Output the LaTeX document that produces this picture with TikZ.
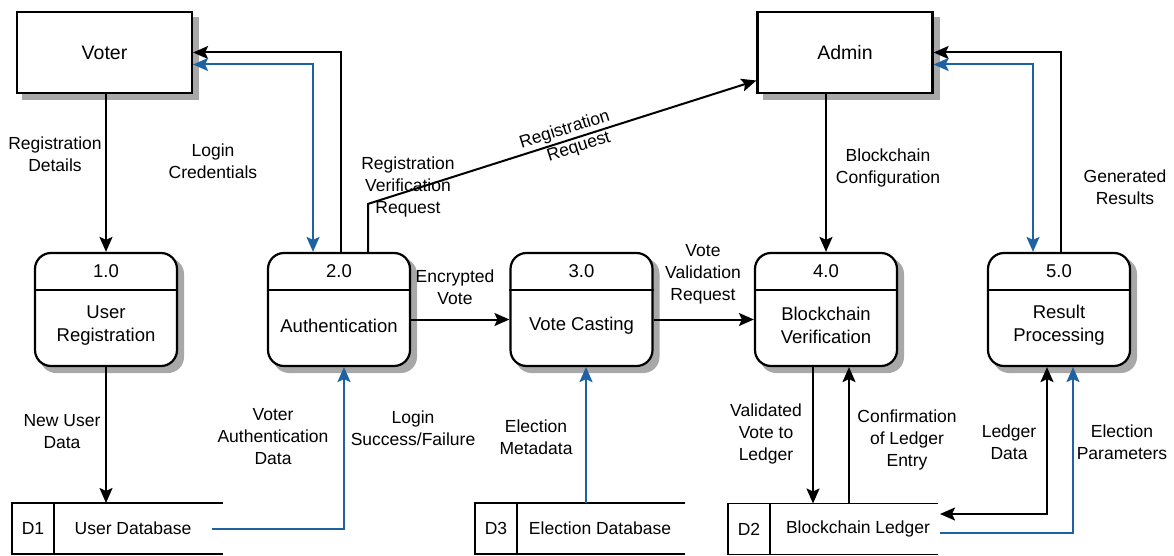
\documentclass[tikz,border=0pt]{standalone}
\usepackage{fontspec}
\setmainfont{Liberation Sans}
\usetikzlibrary{arrows.meta,calc}
\definecolor{flowblue}{RGB}{30,98,164}
\definecolor{shadowgray}{RGB}{168,168,168}
\begin{document}
\begin{tikzpicture}[x=1pt,y=-1pt,
  >={Stealth[length=15pt,width=13pt,inset=3pt]},
  ent/.style={draw,line width=2.2pt,fill=white,minimum width=175pt,minimum height=81pt,font=\fontsize{19.5}{23}\selectfont},
  proc/.style={draw,line width=2.2pt,fill=white,rounded corners=16pt,minimum width=142pt,minimum height=113pt},
  ptext/.style={font=\fontsize{18.5}{23}\selectfont,align=center,inner sep=0pt},
  lbl/.style={font=\fontsize{17.5}{22}\selectfont,align=center,inner sep=0pt},
  store/.style={minimum height=51pt,inner sep=0pt,outer sep=0pt},
  storeline/.style={line width=1.8pt},
  flow/.style={line width=2pt,->},
  bflow/.style={line width=2pt,draw=flowblue,->},
  shadowbox/.style={fill=shadowgray,draw=none}
]
\useasboundingbox (0,0) rectangle (1174,556);

% shadows (drawn first, behind boxes)
\path[shadowbox] (22,17) rectangle (199,100);
\path[shadowbox] (762.5,17) rectangle (939.5,100);
\foreach \x in {106,339,581.5,826,1059}{
  \path[shadowbox,rounded corners=16pt] ({\x-66},258) rectangle ({\x+78},373);
}

% external entities
\node[ent] (voter) at (104.5,52.5) {Voter};
\node[ent] (admin) at (845,52.5) {Admin};

% processes
\foreach \n/\x/\num/\txt in {p1/106/1.0/{User\\Registration},p2/339/2.0/{Authentication},p3/581.5/3.0/{Vote Casting},p4/826/4.0/{Blockchain\\Verification},p5/1059/5.0/{Result\\Processing}}{
  \node[proc] (\n) at (\x,309.5) {};
  \draw[line width=2pt] ([yshift=19.5pt]\n.west) -- ([yshift=19.5pt]\n.east);
  \node[ptext] (\n num) at ([yshift=38.5pt]\n.center) {\num};
  \node[ptext] (\n txt) at ([yshift=-16pt]\n.center) {\txt};
}

% data stores
\node[store,minimum width=211pt] (d1) at (117.5,528.5) {};
\node[store,minimum width=210pt] (d3) at (580,528.5) {};
\node[store,minimum width=210pt] (d2) at (833,529) {};
\foreach \s/\id/\name/\tx in {d1/D1/User Database/133,d3/D3/Election Database/600,d2/D2/Blockchain Ledger/858}{
  \draw[storeline] (\s.north east) -- (\s.north west) -- (\s.south west) -- (\s.south east);
  \draw[storeline] ([xshift=42pt]\s.north west) -- ([xshift=42pt]\s.south west);
  \node[lbl] (\s id) at ([xshift=21pt]\s.west) {\id};
  \node[lbl] (\s name) at (\tx,0 |- \s.center) {\name};
}

% connectors: voter side
\draw[flow] (voter.south -| p1.north) -- (p1.north);
\draw[flow] ([xshift=2pt]p2.north) |- (voter.east);
\draw[bflow,<->] ([yshift=-12pt]voter.east) -| ([xshift=-26pt]p2.north);
\draw[flow] ([xshift=29pt]p2.north) -- ++(0,-48) coordinate (rvr)
  -- ([yshift=-28pt]admin.west)
  node[lbl,sloped,pos=0.515,anchor=south,yshift=1.5pt] (rr1) {Registration}
  node[lbl,sloped,pos=0.535,anchor=north,yshift=-1.5pt] (rr2) {Request};

% admin side
\draw[flow] (p4.north |- admin.south) -- (p4.north);
\draw[flow] ([xshift=2pt]p5.north) |- (admin.east);
\draw[bflow,<->] ([yshift=-12pt]admin.east) -| ([xshift=-26pt]p5.north);

% process to process
\draw[flow] ([yshift=-10pt]p2.east) -- ([yshift=-10pt]p3.west);
\draw[flow] ([yshift=-10pt]p3.east) -- ([yshift=-10pt]p4.west);

% stores
\draw[flow] (p1.south) -- (p1.south |- d1.north);
\draw[bflow] ([xshift=-11pt]d1.east) -| ([xshift=5pt]p2.south);
\draw[bflow] ([xshift=4.5pt]p3.south |- d3.north) -- ([xshift=4.5pt]p3.south);
\draw[flow] ([xshift=-13pt]p4.south) -- ([xshift=-13pt]p4.south |- d2.north);
\draw[flow] ([xshift=23pt]p4.south |- d2.north) -- ([xshift=23pt]p4.south);
\draw[flow,<->] ([xshift=2pt,yshift=15pt]d2.east) -| ([xshift=-12pt]p5.south);
\draw[bflow] ([xshift=2pt,yshift=-4pt]d2.east) -| ([xshift=14pt]p5.south);

% labels
\node[lbl] (l1) at (55,154) {Registration\\Details};
\node[lbl] (l2) at (213,161) {Login\\Credentials};
\node[lbl] (l3) at (408,187) {Registration\\Verification\\Request};
\node[lbl] (l4) at (888,168) {Blockchain\\Configuration};
\node[lbl] (l5) at (1125,187) {Generated\\Results};
\node[lbl] (l6) at (455,287) {Encrypted\\Vote};
\node[lbl] (l7) at (703,274) {Vote\\Validation\\Request};
\node[lbl] (l8) at (62,432) {New User\\Data};
\node[lbl] (l9) at (273,437) {Voter\\Authentication\\Data};
\node[lbl] (l10) at (413,428) {Login\\Success/Failure};
\node[lbl] (l11) at (536,437) {Election\\Metadata};
\node[lbl] (l12) at (766,434) {Validated\\Vote to\\Ledger};
\node[lbl] (l13) at (907,440) {Confirmation\\of Ledger\\Entry};
\node[lbl] (l14) at (1009,442) {Ledger\\Data};
\node[lbl] (l15) at (1122,442) {Election\\Parameters};
\end{tikzpicture}
\end{document}
